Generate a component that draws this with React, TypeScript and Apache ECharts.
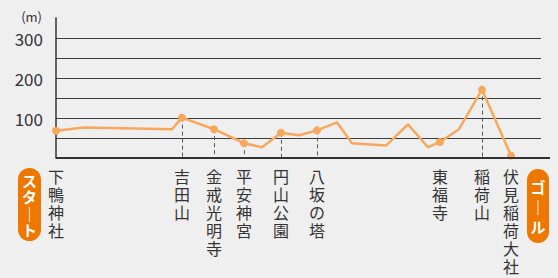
import React, { useEffect, useRef } from "react";
import * as echarts from "echarts";

// Route: distance (arbitrary units along the walk) and elevation (m)
const distances = [0, 5.6, 23.2, 25.2, 31.6, 37.6, 41.2, 45, 48.6, 52.2, 56.2, 59.2, 66, 70.4, 74.4, 76.8, 80.6, 85.2, 91];
const elevations = [68, 76, 72, 101, 72, 37, 27, 63, 57, 69, 89, 37, 31, 84, 27, 40, 72, 171, 6];

// Named stops along the route
const stopNames = ["下鴨神社", "吉田山", "金戒光明寺", "平安神宮", "円山公園", "八坂の塔", "東福寺", "稲荷山", "伏見稲荷大社"];
const stopDistances = [0, 25.2, 31.6, 37.6, 45, 52.2, 76.8, 85.2, 91];
const stopHasGuide = [false, true, true, true, true, true, false, true, false];

const yTicks = [100, 200, 300];
const FONT = '"Noto Sans CJK JP", "Noto Sans", sans-serif';

export default function App() {
  const ref = useRef<HTMLDivElement>(null);
  useEffect(() => {
    document.body.style.margin = "0";
    document.body.style.background = "#efefef";
    const chart = echarts.init(ref.current!, null, { renderer: "svg" });
    const data = distances.map((d, i) => {
      const isStop = stopDistances.indexOf(d) >= 0;
      return isStop ? { value: [d, elevations[i]] } : { value: [d, elevations[i]], symbol: "none" };
    });
    const guides = stopDistances
      .map((d, i) => ({ d, i }))
      .filter((o) => stopHasGuide[o.i])
      .map((o) => {
        const e = elevations[distances.indexOf(o.d)];
        return [{ coord: [o.d, e] }, { coord: [o.d, 0] }];
      });
    chart.setOption({
      animation: false,
      backgroundColor: "#efefef",
      textStyle: { fontFamily: FONT },
      grid: { left: 56, right: 17, top: 18, bottom: 120 },
      xAxis: {
        type: "value",
        min: 0,
        max: 97,
        splitLine: { show: false },
        axisLine: { show: false },
        axisTick: { show: false },
        axisLabel: {
          customValues: stopDistances,
          formatter: (v: number) => {
            let best = 0;
            stopDistances.forEach((d, i) => {
              if (Math.abs(d - v) < Math.abs(stopDistances[best] - v)) best = i;
            });
            return stopNames[best].split("").join("\n");
          },
          fontSize: 16,
          lineHeight: 18,
          color: "#333",
          verticalAlign: "top",
          margin: 9,
          fontFamily: FONT,
        },
      },
      yAxis: {
        type: "value",
        min: 0,
        max: 350,
        interval: 50,
        name: "(m)",
        nameLocation: "end",
        nameGap: 2,
        nameTextStyle: { fontSize: 13, color: "#333", align: "right", verticalAlign: "middle", padding: [0, 14, 0, 0], fontFamily: FONT },
        axisLine: { show: true, lineStyle: { color: "#333", width: 1.5 } },
        axisTick: { show: false },
        axisLabel: {
          formatter: (v: number) => (yTicks.indexOf(v) >= 0 ? String(v) : ""),
          fontSize: 17,
          color: "#333",
          margin: 13,
          fontFamily: FONT,
        },
        splitLine: {
          show: true,
          lineStyle: {
            color: ["transparent", "#3d3d3d", "#3d3d3d", "#3d3d3d", "#3d3d3d", "#3d3d3d", "#3d3d3d", "transparent"],
            width: 1.2,
          },
        },
      },
      series: [
        {
          type: "line",
          data,
          symbol: "circle",
          symbolSize: 8,
          showSymbol: true,
          lineStyle: { color: "#f7a85c", width: 2.5 },
          itemStyle: { color: "#f7a85c" },
          z: 5,
          markLine: {
            silent: true,
            symbol: "none",
            label: { show: false },
            lineStyle: { color: "#555", width: 1, type: [4, 3] },
            data: guides,
            z: 2,
          },
        },
      ],
      graphic: [
        { type: "line", shape: { x1: 56, y1: 158, x2: 550, y2: 158 }, style: { stroke: "#333", lineWidth: 1.8 }, z: 10 },
        { type: "rect", shape: { x: 18, y: 168, width: 23, height: 73, r: 11.5 }, style: { fill: "#ee7700" } },
        {
          type: "text",
          x: 29.5,
          y: 205,
          style: { text: "ス\nタ\n｜\nト", fill: "#fff", font: `bold 15px ${FONT}`, align: "center", verticalAlign: "middle", lineHeight: 16.5 },
        },
        { type: "rect", shape: { x: 527, y: 169, width: 22, height: 74, r: 11 }, style: { fill: "#ee7700" } },
        {
          type: "text",
          x: 538,
          y: 206,
          style: { text: "ゴ\n｜\nル", fill: "#fff", font: `bold 15px ${FONT}`, align: "center", verticalAlign: "middle", lineHeight: 20 },
        },
      ],
    });
    return () => chart.dispose();
  }, []);
  return <div ref={ref} style={{ width: 558, height: 278 }} />;
}
